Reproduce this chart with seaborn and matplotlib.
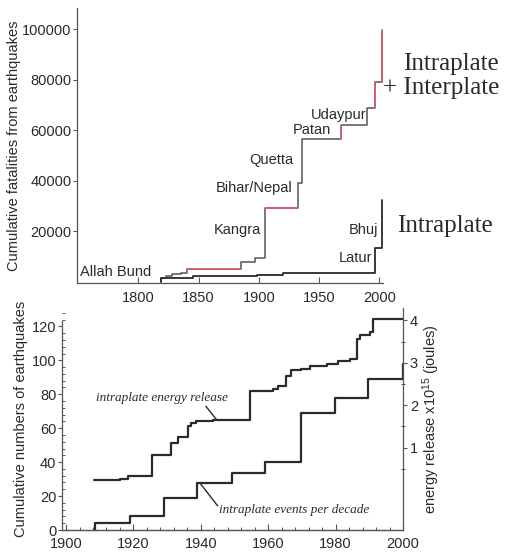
import matplotlib
matplotlib.use("Agg")
import matplotlib.pyplot as plt
import pandas as pd
import seaborn as sns
from matplotlib.ticker import MultipleLocator, FixedLocator

sns.set_theme(style="white")
plt.rcParams["font.family"] = ["Liberation Sans", "DejaVu Sans"]
plt.rcParams["mathtext.fontset"] = "custom"
plt.rcParams["mathtext.rm"] = "Liberation Sans"
plt.rcParams["mathtext.it"] = "Liberation Sans:italic"

# ---- upper panel: cumulative fatalities ----
quake_years = [1819, 1823, 1828, 1835, 1840, 1885, 1897, 1905, 1932.5, 1935.5,
               1968, 1989.5, 1996, 2002]
total_deaths = [1500, 2400, 3000, 3700, 5000, 8000, 9400, 29300, 39200, 56500,
                62000, 69000, 79300, 99800]
intra_years = [1819, 1845, 1898, 1920, 1996, 2002]
intra_deaths = [1500, 2200, 2800, 3400, 13300, 32500]

quake_names = ["Allah Bund", "Kangra", "Bihar/Nepal", "Quetta", "Patan",
               "Udaypur", "Latur", "Bhuj"]

# ---- lower panel: intraplate events and energy ----
decade_years = [1908.6, 1919, 1929, 1939, 1949.2, 1959, 1969.7, 1979.8, 1989.6, 2000]
events_cum = [4, 8, 18.7, 27.5, 33.5, 40, 69, 77.6, 89, 98]

energy_years = [1908.2, 1916, 1918.5, 1925.4, 1931, 1933.3, 1936.2, 1937.2, 1938.7,
                1943.5, 1954.5, 1961.5, 1963, 1965.3, 1966.8, 1969.8, 1972.3,
                1977.3, 1980.8, 1984.3, 1986.3, 1987.3, 1990.2, 1991.2, 2000]
energy_release = [0.24, 0.27, 0.34, 0.82, 1.10, 1.26, 1.50, 1.57, 1.62, 1.65,
                  2.34, 2.39, 2.45, 2.68, 2.82, 2.86, 2.92, 2.98, 3.04, 3.10,
                  3.57, 3.65, 3.73, 4.04, 4.04]

INK = "#2a2a2a"
GREY = "#555555"
RED = "#d4606e"
W, H = 506, 552

fig = plt.figure(figsize=(W / 100, H / 100), dpi=100)
fig.patch.set_facecolor("white")


def frac(x0, y0, x1, y1):
    return [x0 / W, 1 - y1 / H, (x1 - x0) / W, (y1 - y0) / H]


def step_frame(years, values, from_zero):
    xs = list(years)
    ys = list(values)
    if from_zero:
        xs = [xs[0]] + xs
        ys = [0] + ys
    return pd.DataFrame({"year": xs, "value": ys})


# ================= upper panel =================
ax1 = fig.add_axes(frac(77, 8, 383, 283))
sns.lineplot(data=step_frame(quake_years, total_deaths, True), x="year", y="value",
             drawstyle="steps-post", estimator=None, sort=False, color=GREY,
             lw=1.1, ax=ax1)
sns.lineplot(data=step_frame(intra_years, intra_deaths, True), x="year", y="value",
             drawstyle="steps-post", estimator=None, sort=False, color=INK,
             lw=1.3, ax=ax1)

# red highlights on parts of the combined curve: (event index, 'h' run after it / 'v' rise at it)
red_parts = [(4, "h"), (7, "h"), (10, "v"), (12, "v"), (13, "v")]
for i, kind in red_parts:
    if kind == "h":
        ax1.plot([quake_years[i], quake_years[i + 1]], [total_deaths[i]] * 2,
                 color=RED, lw=1.3, solid_capstyle="butt")
    else:
        ax1.plot([quake_years[i]] * 2, [total_deaths[i - 1], total_deaths[i]],
                 color=RED, lw=1.3, solid_capstyle="butt")

ax1.set_xlim(1749, 2003)
ax1.set_ylim(-400, 108500)
ax1.xaxis.set_major_locator(FixedLocator([1800, 1850, 1900, 1950, 2000]))
ax1.yaxis.set_major_locator(FixedLocator([20000, 40000, 60000, 80000, 100000]))
ax1.tick_params(axis="x", direction="in", length=4, width=0.8, color=GREY,
                labelsize=10.5, labelcolor=INK, pad=6, bottom=True)
ax1.tick_params(axis="y", direction="out", length=3, width=0.8, color=GREY,
                labelsize=10.5, labelcolor=INK, pad=1, left=True)
for side in ["top", "right"]:
    ax1.spines[side].set_visible(False)
for side in ["left", "bottom"]:
    ax1.spines[side].set_color(GREY)
    ax1.spines[side].set_linewidth(0.9)
ax1.set_xlabel("")
ax1.set_ylabel("Cumulative fatalities from earthquakes", fontsize=10.5,
               color=INK, labelpad=1)

label_spots = {
    "Allah Bund": (1751.5, 3900, "left"),
    "Kangra": (1902.0, 20600, "right"),
    "Bihar/Nepal": (1928.0, 37200, "right"),
    "Quetta": (1929.0, 48300, "right"),
    "Patan": (1960.0, 60200, "right"),
    "Udaypur": (1989.0, 66100, "right"),
    "Latur": (1994.0, 9500, "right"),
    "Bhuj": (1999.0, 20600, "right"),
}
for name in quake_names:
    x, y, ha = label_spots[name]
    ax1.text(x, y, name, ha=ha, va="center", fontsize=10.5, color=INK)

fig.text(499 / W, 1 - 76 / H, "Intraplate\n+ Interplate", ha="right", va="center",
         multialignment="right", family=["Liberation Serif"], fontsize=18,
         color=INK, linespacing=1.1)
fig.text(397 / W, 1 - 226 / H, "Intraplate", ha="left", va="center",
         family=["Liberation Serif"], fontsize=18, color=INK)

# ================= lower panel =================
ax2 = fig.add_axes(frac(62, 307.7, 403, 530))
ax3 = ax2.twinx()

sns.lineplot(data=step_frame(decade_years, events_cum, True), x="year", y="value",
             drawstyle="steps-post", estimator=None, sort=False, color=INK,
             lw=1.6, ax=ax2)
sns.lineplot(data=step_frame(energy_years, energy_release, False), x="year",
             y="value", drawstyle="steps-post", estimator=None, sort=False,
             color=INK, lw=1.6, ax=ax3)

ax2.set_xlim(1898.8, 2000)
ax2.set_ylim(0, 131)
ax3.set_ylim(-0.941, 4.30)

ax2.xaxis.set_major_locator(MultipleLocator(20))
ax2.xaxis.set_minor_locator(MultipleLocator(4))
ax2.yaxis.set_major_locator(FixedLocator([0, 20, 40, 60, 80, 100, 120]))
ax2.yaxis.set_minor_locator(MultipleLocator(4))
ax3.yaxis.set_major_locator(FixedLocator([1, 2, 3, 4]))
ax3.yaxis.set_minor_locator(FixedLocator([0.5, 1.5, 2.5, 3.5]))

ax2.tick_params(axis="x", which="major", direction="in", length=4, width=0.8,
                color=GREY, labelsize=10.5, labelcolor=INK, pad=5, bottom=True)
ax2.tick_params(axis="x", which="minor", direction="in", length=2.5, width=0.7,
                color=GREY, bottom=True)
ax2.tick_params(axis="y", which="major", direction="out", length=3, width=0.8,
                color=GREY, labelsize=10.5, labelcolor=INK, pad=1, left=True)
ax2.tick_params(axis="y", which="minor", direction="in", length=2.5, width=0.7,
                color=GREY, left=True)
ax3.tick_params(axis="y", which="major", direction="out", length=3, width=0.8,
                color=GREY, labelsize=10.5, labelcolor=INK, pad=2, right=True)
ax3.tick_params(axis="y", which="minor", direction="inout", length=3, width=0.7,
                color=GREY, right=True)

for a in (ax2, ax3):
    a.spines["top"].set_visible(False)
    for side in ["left", "right", "bottom"]:
        a.spines[side].set_color(GREY)
        a.spines[side].set_linewidth(0.9)
ax3.spines["left"].set_visible(False)
ax2.spines["right"].set_visible(False)
ax2.spines["left"].set_bounds(0, 123)

ax2.set_xlabel("")
ax2.set_ylabel("Cumulative numbers of earthquakes", fontsize=10.5, color=INK,
               labelpad=3)
ax3.set_ylabel(r"energy release x10$^{15}$ (joules)", fontsize=10.5, color=INK,
               labelpad=2)

# curve labels with leader lines
ax2.text(1928.6, 77.6, "intraplate energy release", ha="center", va="center",
         family=["Liberation Serif"], style="italic", fontsize=9.5, color=INK)
ax2.annotate("", xy=(1944.8, 64.7), xytext=(1941.5, 72.9),
             arrowprops=dict(arrowstyle="-", lw=1.0, color=INK,
                             shrinkA=0, shrinkB=0))
ax2.text(1945.3, 11.8, "intraplate events per decade", ha="left", va="center",
         family=["Liberation Serif"], style="italic", fontsize=9.5, color=INK)
ax2.annotate("", xy=(1940.0, 27.0), xytext=(1945.0, 14.2),
             arrowprops=dict(arrowstyle="-", lw=1.0, color=INK,
                             shrinkA=0, shrinkB=0))

fig.savefig("out.png", dpi=100, facecolor="white")
